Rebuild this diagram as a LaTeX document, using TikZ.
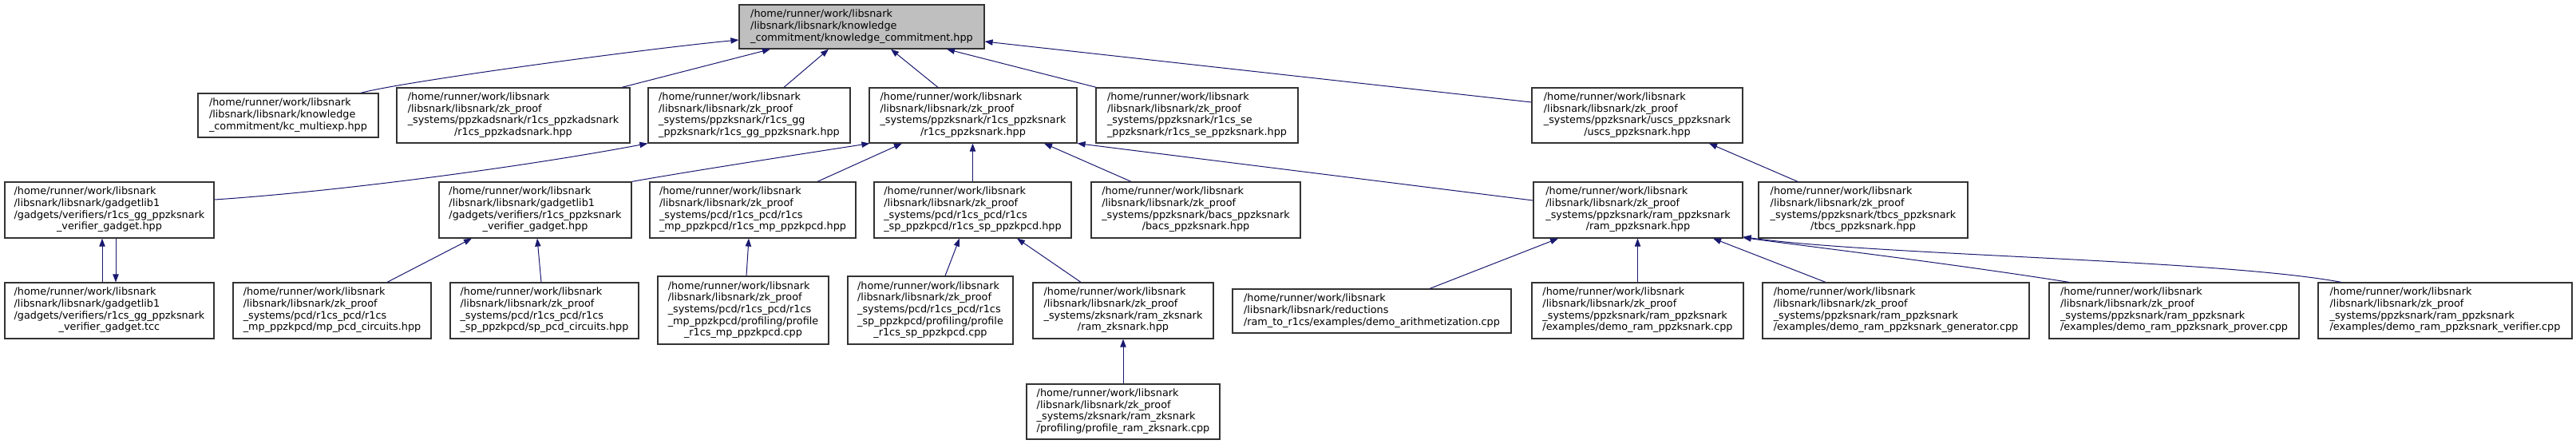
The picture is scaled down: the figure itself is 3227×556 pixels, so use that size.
\documentclass[tikz,border=0pt]{standalone}
\usepackage{fontspec}
\setmainfont{DejaVu Sans}
\usetikzlibrary{arrows.meta,calc}
\definecolor{edgeblue}{HTML}{191970}
\definecolor{rootgray}{HTML}{BFBFBF}
\newcommand{\dxt}[1]{\begin{tabular}{@{}l@{}}#1\end{tabular}}
\newcommand{\lastc}[1]{\multicolumn{1}{@{}c@{}}{#1}}
\newcommand{\hm}{/home/runner/work/libsnark}
\tikzset{
  box/.style={draw=black!80, line width=0.9pt, fill=white, inner sep=0pt, text=black},
  sz/.style 2 args={minimum width=#1*0.75pt, minimum height=#2*0.75pt},
  dep/.style={draw=edgeblue, line width=0.75pt, -{Triangle[length=7.5pt,width=5.5pt,fill=edgeblue]}}
}
\begin{document}
\begin{tikzpicture}[x=0.75pt,y=-0.75pt,
  font=\fontsize{9.6pt}{11pt}\selectfont]
\useasboundingbox[fill=white] (0,0) rectangle (3227,556);

% row 1
\node[box,fill=rootgray,sz={307}{55}] (root) at (1079.5,33.5) {\dxt{\hm\\/libsnark/libsnark/knowledge\\\lastc{\_commitment/knowledge\_commitment.hpp}}};

% row 2
\node[box,sz={226}{55}] (kc) at (361,144.5) {\dxt{\hm\\/libsnark/libsnark/knowledge\\\lastc{\_commitment/kc\_multiexp.hpp}}};
\node[box,sz={292}{69}] (ads) at (643,144.5) {\dxt{\hm\\/libsnark/libsnark/zk\_proof\\\_systems/ppzkadsnark/r1cs\_ppzkadsnark\\\lastc{/r1cs\_ppzkadsnark.hpp}}};
\node[box,sz={253}{69}] (gg) at (938.5,144.5) {\dxt{\hm\\/libsnark/libsnark/zk\_proof\\\_systems/ppzksnark/r1cs\_gg\\\lastc{\_ppzksnark/r1cs\_gg\_ppzksnark.hpp}}};
\node[box,sz={260}{69}] (R) at (1219,144.5) {\dxt{\hm\\/libsnark/libsnark/zk\_proof\\\_systems/ppzksnark/r1cs\_ppzksnark\\\lastc{/r1cs\_ppzksnark.hpp}}};
\node[box,sz={253}{69}] (se) at (1499.5,144.5) {\dxt{\hm\\/libsnark/libsnark/zk\_proof\\\_systems/ppzksnark/r1cs\_se\\\lastc{\_ppzksnark/r1cs\_se\_ppzksnark.hpp}}};
\node[box,sz={264}{69}] (uscs) at (2051,144.5) {\dxt{\hm\\/libsnark/libsnark/zk\_proof\\\_systems/ppzksnark/uscs\_ppzksnark\\\lastc{/uscs\_ppzksnark.hpp}}};

% row 3
\node[box,sz={262}{70}] (ggh) at (137,263) {\dxt{\hm\\/libsnark/libsnark/gadgetlib1\\/gadgets/verifiers/r1cs\_gg\_ppzksnark\\\lastc{\_verifier\_gadget.hpp}}};
\node[box,sz={241}{70}] (pgh) at (670.5,263) {\dxt{\hm\\/libsnark/libsnark/gadgetlib1\\/gadgets/verifiers/r1cs\_ppzksnark\\\lastc{\_verifier\_gadget.hpp}}};
\node[box,sz={258}{70}] (mpp) at (943,263) {\dxt{\hm\\/libsnark/libsnark/zk\_proof\\\_systems/pcd/r1cs\_pcd/r1cs\\\lastc{\_mp\_ppzkpcd/r1cs\_mp\_ppzkpcd.hpp}}};
\node[box,sz={247}{70}] (spp) at (1218.5,263) {\dxt{\hm\\/libsnark/libsnark/zk\_proof\\\_systems/pcd/r1cs\_pcd/r1cs\\\lastc{\_sp\_ppzkpcd/r1cs\_sp\_ppzkpcd.hpp}}};
\node[box,sz={262}{70}] (bacs) at (1498,263) {\dxt{\hm\\/libsnark/libsnark/zk\_proof\\\_systems/ppzksnark/bacs\_ppzksnark\\\lastc{/bacs\_ppzksnark.hpp}}};
\node[box,sz={262}{70}] (ram) at (2052,263) {\dxt{\hm\\/libsnark/libsnark/zk\_proof\\\_systems/ppzksnark/ram\_ppzksnark\\\lastc{/ram\_ppzksnark.hpp}}};
\node[box,sz={262}{70}] (tbcs) at (2334,263) {\dxt{\hm\\/libsnark/libsnark/zk\_proof\\\_systems/ppzksnark/tbcs\_ppzksnark\\\lastc{/tbcs\_ppzksnark.hpp}}};

% row 4
\node[box,sz={262}{70}] (tcc) at (137,389) {\dxt{\hm\\/libsnark/libsnark/gadgetlib1\\/gadgets/verifiers/r1cs\_gg\_ppzksnark\\\lastc{\_verifier\_gadget.tcc}}};
\node[box,sz={248}{70}] (mpc) at (416,389) {\dxt{\hm\\/libsnark/libsnark/zk\_proof\\\_systems/pcd/r1cs\_pcd/r1cs\\\lastc{\_mp\_ppzkpcd/mp\_pcd\_circuits.hpp}}};
\node[box,sz={236}{70}] (spc) at (682,389) {\dxt{\hm\\/libsnark/libsnark/zk\_proof\\\_systems/pcd/r1cs\_pcd/r1cs\\\lastc{\_sp\_ppzkpcd/sp\_pcd\_circuits.hpp}}};
\node[box,sz={214}{85}] (pmp) at (931,388.5) {\dxt{\hm\\/libsnark/libsnark/zk\_proof\\\_systems/pcd/r1cs\_pcd/r1cs\\\_mp\_ppzkpcd/profiling/profile\\\lastc{\_r1cs\_mp\_ppzkpcd.cpp}}};
\node[box,sz={207}{85}] (psp) at (1165.5,388.5) {\dxt{\hm\\/libsnark/libsnark/zk\_proof\\\_systems/pcd/r1cs\_pcd/r1cs\\\_sp\_ppzkpcd/profiling/profile\\\lastc{\_r1cs\_sp\_ppzkpcd.cpp}}};
\node[box,sz={226}{70}] (rzk) at (1407,389) {\dxt{\hm\\/libsnark/libsnark/zk\_proof\\\_systems/zksnark/ram\_zksnark\\\lastc{/ram\_zksnark.hpp}}};
\node[box,sz={349}{55}] (arith) at (1718.5,389.5) {\dxt{\hm\\/libsnark/libsnark/reductions\\\lastc{/ram\_to\_r1cs/examples/demo\_arithmetization.cpp}}};
\node[box,sz={265}{70}] (dram) at (2051.5,389) {\dxt{\hm\\/libsnark/libsnark/zk\_proof\\\_systems/ppzksnark/ram\_ppzksnark\\\lastc{/examples/demo\_ram\_ppzksnark.cpp}}};
\node[box,sz={334}{70}] (gen) at (2375,389) {\dxt{\hm\\/libsnark/libsnark/zk\_proof\\\_systems/ppzksnark/ram\_ppzksnark\\\lastc{/examples/demo\_ram\_ppzksnark\_generator.cpp}}};
\node[box,sz={313}{70}] (prov) at (2723.5,389) {\dxt{\hm\\/libsnark/libsnark/zk\_proof\\\_systems/ppzksnark/ram\_ppzksnark\\\lastc{/examples/demo\_ram\_ppzksnark\_prover.cpp}}};
\node[box,sz={318}{70}] (ver) at (3063,389) {\dxt{\hm\\/libsnark/libsnark/zk\_proof\\\_systems/ppzksnark/ram\_ppzksnark\\\lastc{/examples/demo\_ram\_ppzksnark\_verifier.cpp}}};

% row 5
\node[box,sz={242}{69}] (prz) at (1407,515.5) {\dxt{\hm\\/libsnark/libsnark/zk\_proof\\\_systems/zksnark/ram\_zksnark\\\lastc{/profiling/profile\_ram\_zksnark.cpp}}};

% edges into root
\draw[dep] ($(kc.north)+(91,0)$) .. controls (500,103) and (800,62) .. ($(root.west)+(0,16.5)$);
\draw[dep] ($(ads.north)+(136,0)$) -- ($(root.south)+(-114.5,0)$);
\draw[dep] ($(gg.north)+(43.5,0)$) -- ($(root.south)+(-41.5,0)$);
\draw[dep] ($(R.north)+(-44,0)$) -- ($(root.south)+(36.5,0)$);
\draw[dep] ($(se.north west)+(1,0)$) -- ($(root.south)+(106.5,0)$);
\draw[dep] ($(uscs.west)+(0,-16.5)$) -- ($(root.east)+(0,18.5)$);

% edges into row 2
\draw[dep] ($(ggh.east)+(0,-13)$) .. controls (420,240) and (650,210) .. (gg.south west);
\draw[dep] (pgh.north east) .. controls (855,216) and (990,195) .. ($(R.south west)+(1,0)$);
\draw[dep] ($(mpp.north)+(81,0)$) -- ($(R.south)+(-89,0)$);
\draw[dep] (spp.north) -- (spp.north |- R.south);
\draw[dep] ($(bacs.north)+(-81,0)$) -- ($(R.south)+(89,0)$);
\draw[dep] ($(ram.west)+(0,-12)$) -- (R.south east);
\draw[dep] ($(tbcs.north)+(-82,0)$) -- ($(uscs.south)+(90,0)$);

% edges into row 3
\draw[dep] ($(tcc.north)+(-9,0)$) -- ($(ggh.south)+(-9,0)$);
\draw[dep] ($(ggh.south)+(8,0)$) -- ($(tcc.north)+(8,0)$);
\draw[dep] ($(mpc.north)+(69,0)$) -- ($(pgh.south)+(-79.5,0)$);
\draw[dep] ($(spc.north)+(-4,0)$) -- ($(pgh.south)+(2.5,0)$);
\draw[dep] ($(pmp.north)+(4,0)$) -- ($(mpp.south)+(-5,0)$);
\draw[dep] ($(psp.north)+(18.5,0)$) -- ($(spp.south)+(-16.5,0)$);
\draw[dep] ($(rzk.north)+(-53,0)$) -- ($(spp.south)+(55.5,0)$);
\draw[dep] ($(arith.north)+(72.5,0)$) -- ($(ram.south)+(-100,0)$);
\draw[dep] (dram.north) -- (dram.north |- ram.south);
\draw[dep] ($(gen.north)+(-88,0)$) -- ($(ram.south)+(94,0)$);
\draw[dep] ($(prov.north)+(-131.5,0)$) .. controls (2450,331) and (2300,313) .. ($(ram.south east)+(0,-1)$);
\draw[dep] ($(ver.north)+(-130,0)$) .. controls (2780,325) and (2350,320) .. ($(ram.south east)+(0,-2)$);

% edge into row 4
\draw[dep] (prz.north) -- (rzk.south);
\end{tikzpicture}
\end{document}
